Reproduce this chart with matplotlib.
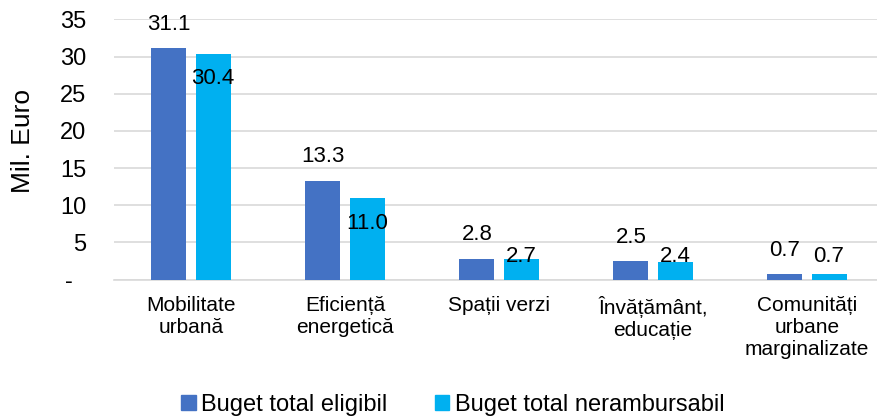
import numpy as np
import matplotlib
matplotlib.use("Agg")
import matplotlib.pyplot as plt
from matplotlib.patches import Patch

plt.rcParams['font.family'] = ['Liberation Sans', 'DejaVu Sans']

categories = ["Mobilitate\nurbană", "Eficiență\nenergetică", "Spații verzi",
              "Învățământ,\neducație", "Comunități\nurbane\nmarginalizate"]
eligibil = [31.1, 13.3, 2.8, 2.5, 0.7]
nerambursabil = [30.4, 11.0, 2.7, 2.4, 0.7]
series_names = ["Buget total eligibil", "Buget total nerambursabil"]
yticks = [0, 5, 10, 15, 20, 25, 30, 35]
ytick_labels = ["-  ", "5", "10", "15", "20", "25", "30", "35"]

c_dark = "#4472C4"
c_light = "#00B0F0"

fig = plt.figure(figsize=(8.77, 4.19), dpi=100)
ax = fig.add_axes([114 / 877, 1 - 279.5 / 419, 1 - 114 / 877, 260 / 419])

x = np.arange(len(categories))
off = 0.143
w = 0.227
ax.bar(x - off, eligibil, w, color=c_dark, zorder=3)
ax.bar(x + off, nerambursabil, w, color=c_light, zorder=3)

for xi, v in zip(x, eligibil):
    ax.text(xi - off, v + 3.2, f"{v:.1f}", ha='center', va='center', fontsize=16, zorder=4)
for xi, v in zip(x, nerambursabil):
    ax.text(xi + off, max(v - 3.4, 3.1), f"{v:.1f}", ha='center', va='center', fontsize=16, zorder=4)

ax.set_ylim(0, 35)
ax.set_xlim(-0.5, (877 - 114) / 154 - 0.5)
ax.set_yticks(yticks)
ax.set_yticklabels(ytick_labels, fontsize=17)
ax.set_xticks(x)
ax.set_xticklabels(categories, fontsize=15, linespacing=1.2, va='top')
ax.tick_params(axis='y', length=0, pad=20)
ax.tick_params(axis='x', length=0, pad=12)
ax.yaxis.grid(True, color="#D9D9D9", linewidth=1.2, zorder=0)
for s in ['top', 'right', 'left']:
    ax.spines[s].set_visible(False)
ax.spines['bottom'].set_color("#D9D9D9")
ax.spines['bottom'].set_linewidth(1.2)

fig.text(23 / 877, 1 - 141 / 419, "Mil. Euro", rotation=90, ha='center', va='center', fontsize=19)

handles = [Patch(color=c_dark), Patch(color=c_light)]
fig.legend(handles, series_names, loc='center', bbox_to_anchor=(453 / 877, 1 - 405 / 419),
           ncol=2, frameon=False, fontsize=17, handlelength=0.6, handleheight=0.6,
           handletextpad=0.25, columnspacing=2.0)

fig.savefig("out.png", dpi=100)
